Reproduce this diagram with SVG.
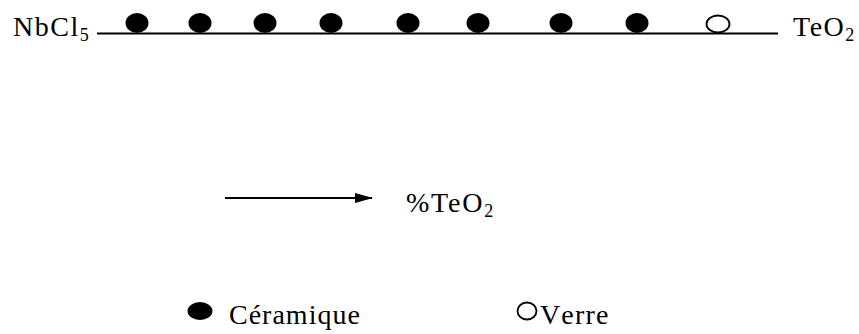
<svg xmlns="http://www.w3.org/2000/svg" width="859" height="334" viewBox="0 0 859 334">
<style>
text{font-family:"Liberation Serif","Times New Roman",serif;fill:#000;font-size:28px;letter-spacing:1.5px}
.s{font-size:18px}
.f{fill:#000}
.o{fill:#fff;stroke:#000;stroke-width:1.8}
.ln{stroke:#000;stroke-width:1.8;fill:none}
</style>
<defs>
<marker id="ah" markerWidth="18" markerHeight="10" refX="17" refY="5" orient="auto" markerUnits="userSpaceOnUse" viewBox="0 0 18 10">
<path d="M0,0 L18,5 L0,10 z" fill="#000"/>
</marker>
</defs>
<rect width="859" height="334" fill="#fff"/>
<g id="axis">
<text x="13" y="36">NbCl<tspan class="s" dy="5">5</tspan></text>
<line class="ln" x1="97" y1="33.5" x2="778" y2="33.5"/>
<text x="793" y="36">TeO<tspan class="s" dy="5">2</tspan></text>
</g>
<g id="points">
<ellipse class="f" cx="137" cy="23" rx="11.5" ry="10"/>
<ellipse class="f" cx="200" cy="23" rx="11.5" ry="10"/>
<ellipse class="f" cx="265" cy="23" rx="11.5" ry="10"/>
<ellipse class="f" cx="331" cy="23" rx="11.5" ry="10"/>
<ellipse class="f" cx="408" cy="23" rx="11.5" ry="10"/>
<ellipse class="f" cx="478" cy="23" rx="11.5" ry="10"/>
<ellipse class="f" cx="561" cy="23" rx="11.5" ry="10"/>
<ellipse class="f" cx="637" cy="23" rx="11.5" ry="10"/>
<ellipse class="o" cx="718" cy="24" rx="11.5" ry="8.5"/>
</g>
<g id="connectors">
<line class="ln" x1="225" y1="198" x2="372" y2="198" marker-end="url(#ah)"/>
</g>
<g id="direction">
<text x="406" y="212" style="letter-spacing:1.8px">%TeO<tspan class="s" dy="5">2</tspan></text>
</g>
<g id="legend">
<ellipse class="f" cx="200" cy="311" rx="12.5" ry="9"/>
<text x="229" y="324" style="letter-spacing:1px">Céramique</text>
<ellipse class="o" cx="527" cy="311" rx="9.5" ry="8.5"/>
<text x="540" y="324" style="letter-spacing:1.2px">V<tspan dx="3">erre</tspan></text>
</g>
</svg>
